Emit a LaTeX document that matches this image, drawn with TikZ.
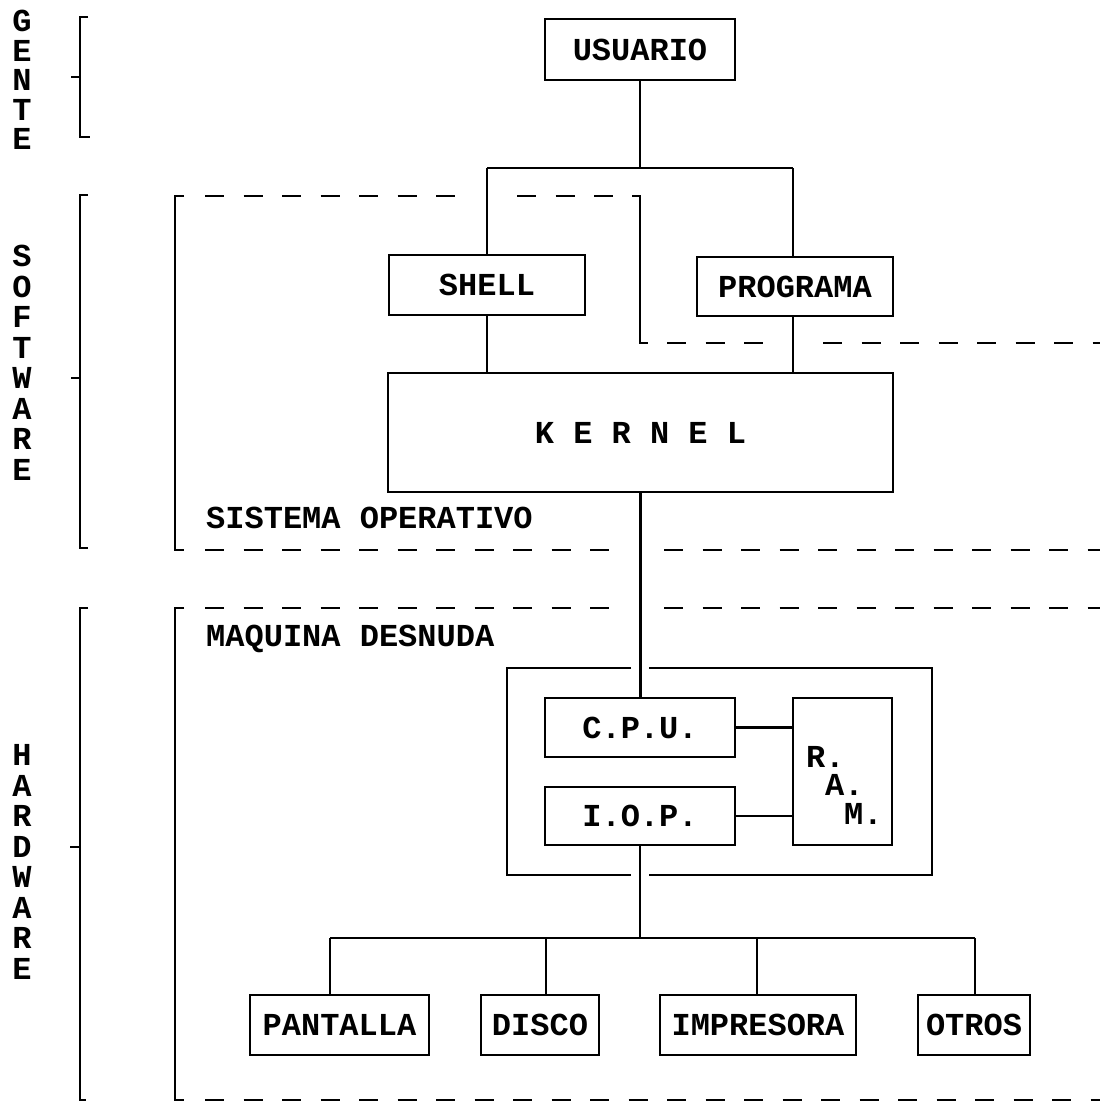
\documentclass[tikz,border=0pt]{standalone}
\usepackage{fontspec}
\setmainfont{Liberation Mono}
\newcommand\typefont{\fontsize{32}{38}\selectfont\bfseries}
\begin{document}
\begin{tikzpicture}[x=1pt,y=-1pt,line width=2.4pt,
  box/.style={draw,inner sep=0pt,font=\typefont},
  txt/.style={inner sep=0pt,font=\typefont},
  lbl/.style={inner sep=0pt,align=center,font=\fontsize{32}{30.5}\selectfont\bfseries},
  lblg/.style={inner sep=0pt,align=center,font=\fontsize{32}{29.5}\selectfont\bfseries},
  dsh/.style={dash pattern=on 19pt off 19.5pt}]
\useasboundingbox (0,0) rectangle (1100,1114);
\fill[white] (0,0) rectangle (1100,1114);

% left labels
\node[lblg] (gente) at (22,80) {G\\E\\N\\T\\E};
\node[lbl] (soft) at (22,363) {S\\O\\F\\T\\W\\A\\R\\E};
\node[lbl] (hard) at (22,862) {H\\A\\R\\D\\W\\A\\R\\E};

% outer brackets
\draw (88,17) -- (80,17) -- (80,137) -- (90,137);
\draw (71,77) -- (80,77);
\draw (88,195) -- (80,195) -- (80,548) -- (88,548);
\draw (71,378) -- (80,378);
\draw (88,608) -- (80,608) -- (80,1100) -- (86,1100);
\draw (70,847) -- (80,847);

% inner brackets (OS and bare machine)
\draw (184,196) -- (175,196) -- (175,550) -- (184,550);
\draw (184,608) -- (175,608) -- (175,1100) -- (184,1100);
\draw[dsh] (205,196) -- (460,196);
\draw[dsh] (517,196) -- (614,196);
\draw (632,196) -- (640,196) -- (640,343) -- (648,343);
\draw[dsh] (667,343) -- (765,343);
\draw[dsh] (823,343) -- (1100,343);
\draw[dsh] (205,550) -- (612,550);
\draw[dsh] (664,550) -- (1100,550);
\draw[dsh] (205,608) -- (612,608);
\draw[dsh] (664,608) -- (1100,608);
\draw[dsh] (205,1100) -- (1100,1100);

\node[txt,anchor=base west] (so) at (205,528) {SISTEMA OPERATIVO};
\node[txt,anchor=base west] (md) at (205,646) {MAQUINA DESNUDA};

% top boxes
\node[box,minimum width=190pt,minimum height=61pt] (usuario) at (640,49.5) {USUARIO};
\node[box,minimum width=196pt,minimum height=60pt] (shell) at (487,285) {SHELL};
\node[box,minimum width=196pt,minimum height=59pt] (programa) at (795,286.5) {PROGRAMA};
\node[box,minimum width=505pt,minimum height=119pt] (kernel) at (640.5,432.5) {K E R N E L};

\coordinate (top) at (640,168);
\coordinate (tl) at (487,168);
\coordinate (tr) at (793,168);
\draw (usuario.south) -- (top);
\draw (tl) -- (tr);
\draw (tl) -- (tl |- shell.north);
\draw (tr) -- (tr |- programa.north);
\draw (shell.south) -- (shell.south |- kernel.north);
\draw (tr |- programa.south) -- (tr |- kernel.north);

% hardware
\draw (631,668) -- (507,668) -- (507,875) -- (631,875);
\draw (649,668) -- (932,668) -- (932,875) -- (649,875);
\node[box,minimum width=190pt,minimum height=59pt] (cpu) at (640,727.5) {C.P.U.};
\node[box,minimum width=190pt,minimum height=58pt] (iop) at (640,816) {I.O.P.};
\node[box,minimum width=99pt,minimum height=147pt] (ram) at (842.5,771.5) {};
\node[txt,anchor=base west] (r1) at (805,767) {R.};
\node[txt,anchor=base west] (r2) at (824,795.5) {A.};
\node[txt,anchor=base west] (r3) at (843,824) {M.};
\draw (kernel.south) -- (kernel.south |- cpu.north);
\draw (cpu.east) -- (cpu.east -| ram.west);
\draw (iop.east) -- (iop.east -| ram.west);

% peripherals
\node[box,minimum width=179pt,minimum height=60pt] (pantalla) at (339.5,1025) {PANTALLA};
\node[box,minimum width=118pt,minimum height=60pt] (disco) at (540,1025) {DISCO};
\node[box,minimum width=196pt,minimum height=60pt] (impresora) at (758,1025) {IMPRESORA};
\node[box,minimum width=112pt,minimum height=60pt] (otros) at (974,1025) {OTROS};
\coordinate (bus) at (640,938);
\coordinate (b1) at (330,938);
\coordinate (b2) at (546,938);
\coordinate (b3) at (757,938);
\coordinate (b4) at (975,938);
\draw (iop.south) -- (bus);
\draw (b1) -- (b4);
\draw (b1) -- (b1 |- pantalla.north);
\draw (b2) -- (b2 |- disco.north);
\draw (b3) -- (b3 |- impresora.north);
\draw (b4) -- (b4 |- otros.north);
\end{tikzpicture}
\end{document}
